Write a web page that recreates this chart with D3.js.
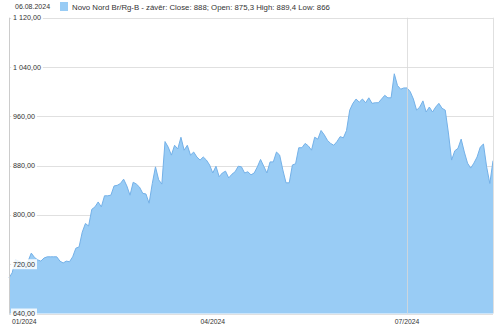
<!DOCTYPE html>
<html>
<head>
<meta charset="utf-8">
<script src="https://cdn.jsdelivr.net/npm/d3@7"></script>
<style>
  body { margin: 0; background: #fff; }
  text { font-family: "Liberation Sans", Arial, sans-serif; fill: #333; }
</style>
</head>
<body>
<script>
// chart values (close prices, one per trading day)
var closes = [
  698, 706, 727, 725, 723, 722, 725, 738, 731, 727, 725, 730, 732, 732, 732, 732, 725, 722, 725, 724,
  732, 746, 748, 772, 786, 782, 809, 813, 821, 813, 831, 831, 832, 847, 848, 851, 858, 847, 832, 853,
  850, 845, 835, 834, 819, 851, 878, 857, 850, 919, 910, 897, 913, 907, 926, 905, 913, 897, 902, 894,
  889, 894, 889, 881, 868, 879, 862, 868, 871, 860, 866, 870, 879, 878, 868, 870,
  865, 868, 878, 890, 879, 868, 886, 886, 902, 897, 873, 852, 852, 881, 883, 909, 909, 916, 912, 905,
  926, 923, 937, 930, 921, 916, 913, 919, 927, 925, 937, 970, 981, 988, 983, 988, 982, 990, 981, 982,
  982, 988, 994, 990, 990, 1029, 1010, 1004, 1006, 1006,
  1000, 988, 970, 975, 985, 967, 975, 967, 975, 981, 973, 970, 933, 889, 904, 908, 923, 902, 884, 876,
  884, 894, 910, 915, 878, 851, 888
];

// month ticks: index of the first trading day of the month
var monthTickIdx = [0, 64, 125];
var monthTickLabels = ["01/2024", "04/2024", "07/2024"];

var yTicks = [640, 720, 800, 880, 960, 1040, 1120];

var headerDate = "06.08.2024";
var legendText = "Novo Nord Br/Rg-B - závěr: Close: 888; Open: 875,3 High: 889,4 Low: 866";

var svgWidth = 500;
var svgHeight = 328;

var plot = { left: 9, right: 493, top: 17.7, bottom: 313.5 };

var svg = d3.select("body")
  .append("svg")
  .attr("width", svgWidth)
  .attr("height", svgHeight);

var xScale = d3.scaleLinear()
  .domain([0, closes.length - 1])
  .range([plot.left, plot.right]);

var yScale = d3.scaleLinear()
  .domain([640, 1120])
  .range([plot.bottom, plot.top]);

var locale = d3.formatLocale({ decimal: ",", thousands: "\u00a0", grouping: [3], currency: ["", ""] });
var fmt = locale.format(",.2f");

// horizontal grid
svg.append("g")
  .selectAll("line")
  .data(yTicks)
  .enter()
  .append("line")
  .attr("x1", plot.left)
  .attr("x2", plot.right)
  .attr("y1", d => Math.round(yScale(d)) + 0.5)
  .attr("y2", d => Math.round(yScale(d)) + 0.5)
  .attr("stroke", "#e0e0e0")
  .attr("stroke-width", 1);

// area
var area = d3.area()
  .x((d, i) => xScale(i))
  .y0(yScale(640))
  .y1(d => yScale(d));

var line = d3.line()
  .x((d, i) => xScale(i))
  .y(d => yScale(d));

svg.append("path")
  .datum(closes)
  .attr("d", area)
  .attr("fill", "#99ccf5");

svg.append("path")
  .datum(closes)
  .attr("d", line)
  .attr("fill", "none")
  .attr("stroke", "#74b1e8")
  .attr("stroke-width", 1);

// vertical grid line at July
svg.append("line")
  .attr("x1", Math.round(xScale(monthTickIdx[2])) + 0.5)
  .attr("x2", Math.round(xScale(monthTickIdx[2])) + 0.5)
  .attr("y1", plot.top)
  .attr("y2", plot.bottom)
  .attr("stroke", "#d8d8d8")
  .attr("stroke-opacity", 0.8);

// left and right borders
svg.append("line")
  .attr("x1", plot.left + 0.5).attr("x2", plot.left + 0.5)
  .attr("y1", plot.top).attr("y2", plot.bottom)
  .attr("stroke", "#cccccc");
svg.append("line")
  .attr("x1", plot.right + 0.5).attr("x2", plot.right + 0.5)
  .attr("y1", plot.top).attr("y2", plot.bottom)
  .attr("stroke", "#e0e0e0");

// y labels with white boxes, drawn inside the plot
var yLabels = svg.append("g")
  .selectAll("g")
  .data(yTicks)
  .enter()
  .append("g")
  .attr("transform", d => `translate(${plot.left + 4}, ${yScale(d)})`);

yLabels.append("text")
  .attr("x", 0)
  .attr("dy", "0.35em")
  .attr("font-size", "7.2px")
  .text(d => fmt(d))
  .each(function() {
    var bb = this.getBBox();
    d3.select(this.parentNode).insert("rect", "text")
      .attr("x", bb.x - 2)
      .attr("y", bb.y - 0.5)
      .attr("width", bb.width + 4)
      .attr("height", bb.height + 1)
      .attr("fill", "#fff")
      .attr("fill-opacity", 0.85);
  });

// x labels
svg.append("g")
  .selectAll("text")
  .data(monthTickIdx)
  .enter()
  .append("text")
  .attr("x", (d, i) => i === 0 ? xScale(d) + 3 : xScale(d))
  .attr("y", 323.5)
  .attr("text-anchor", (d, i) => i === 0 ? "start" : "middle")
  .attr("font-size", "6.8px")
  .attr("fill", "#222")
  .text((d, i) => monthTickLabels[i]);

// header
svg.append("text")
  .attr("x", 15)
  .attr("y", 9)
  .attr("font-size", "7px")
  .attr("fill", "#222")
  .text(headerDate);

svg.append("rect")
  .attr("x", 60)
  .attr("y", 2)
  .attr("width", 8)
  .attr("height", 9)
  .attr("fill", "#99ccf5");

svg.append("text")
  .attr("x", 72)
  .attr("y", 9.5)
  .attr("font-size", "7.8px")
  .attr("fill", "#222")
  .text(legendText);
</script>
</body>
</html>
